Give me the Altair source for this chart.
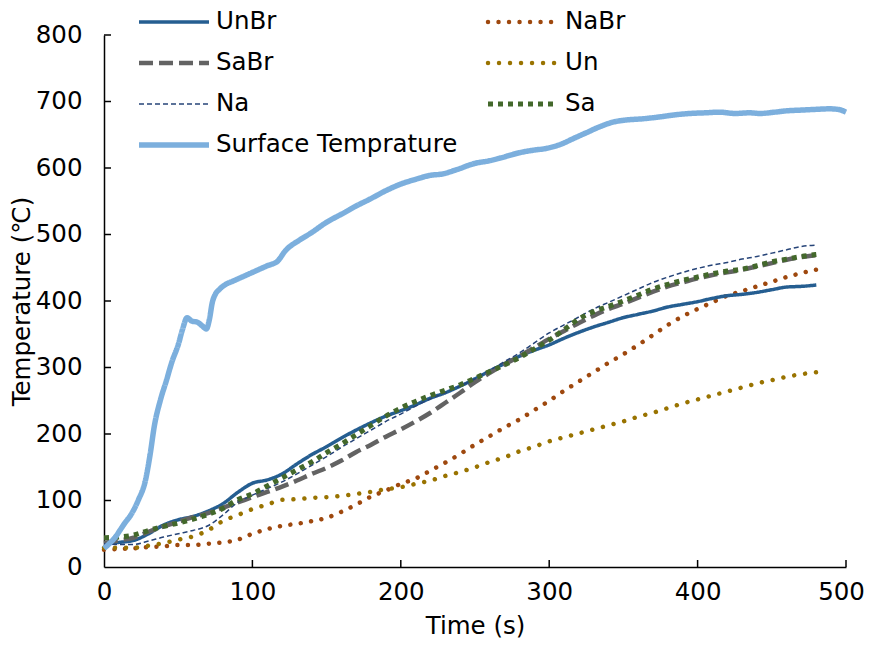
import json
import altair as alt
import pandas as pd

# ---------------- data ----------------
time_s = list(range(0, 481, 10))

unbr = [35, 37, 40, 50, 63, 71, 76, 84, 95, 112, 126, 131, 140, 155, 169, 181, 194, 206, 217, 227,
        235, 244, 254, 262, 272, 283, 295, 306, 317, 326, 334, 344, 353, 361, 368, 375, 380, 385, 391, 395,
        399, 404, 408, 410, 413, 417, 421, 422, 424]
nabr = [26, 27, 28, 30, 31, 33, 33, 35, 37, 41, 50, 57, 62, 65, 69, 74, 83, 94, 106, 115,
        125, 133, 145, 157, 170, 184, 197, 210, 222, 236, 250, 265, 279, 293, 307, 320, 334, 349, 364, 377,
        388, 398, 408, 415, 422, 429, 436, 442, 447]
sabr = [36, 40, 44, 53, 61, 68, 75, 81, 89, 97, 105, 113, 121, 130, 140, 149, 160, 173, 184, 196,
        207, 219, 232, 247, 262, 278, 292, 305, 317, 330, 343, 355, 367, 378, 388, 396, 405, 414, 422, 428,
        434, 439, 443, 447, 452, 457, 462, 466, 469]
un = [29, 29, 29, 32, 36, 41, 46, 55, 69, 78, 87, 94, 101, 102, 104, 105, 107, 110, 113, 117,
      120, 125, 130, 137, 143, 150, 158, 165, 174, 181, 189, 195, 201, 207, 213, 219, 226, 232, 239, 246,
      252, 258, 264, 270, 276, 281, 286, 290, 293]
na = [35, 34, 34, 39, 45, 50, 55, 62, 78, 97, 108, 118, 128, 140, 153, 166, 180, 193, 206, 219,
      230, 242, 253, 262, 272, 283, 296, 309, 322, 337, 352, 364, 376, 388, 398, 408, 418, 428, 436, 443,
      449, 454, 458, 463, 467, 472, 477, 482, 484]
sa = [44, 45, 48, 55, 61, 66, 72, 79, 88, 101, 110, 122, 134, 146, 158, 172, 185, 199, 213, 227,
      239, 249, 258, 266, 274, 284, 294, 304, 315, 328, 341, 357, 373, 384, 392, 400, 409, 418, 425, 431,
      436, 441, 445, 448, 453, 459, 463, 467, 470]

surface_time = [0, 4, 8, 11, 14, 18, 23, 28, 31, 34, 38, 42, 46, 50, 53, 56, 59, 63, 66, 69,
                71, 73, 75, 78, 82, 87, 93, 102, 110, 117, 122, 132, 140, 149, 162, 170, 179, 190, 199, 210,
                220, 228, 237, 250, 260, 267, 280, 290, 297, 307, 317, 325, 334, 343, 351, 363, 375, 385, 395, 405,
                415, 425, 435, 442, 452, 460, 469, 478, 489, 495, 500]
surface_temp = [28, 36, 46, 56, 66, 78, 100, 131, 168, 213, 251, 280, 310, 334, 358, 375, 370, 368, 363, 358,
                372, 398, 410, 418, 425, 430, 436, 445, 453, 460, 475, 492, 503, 517, 533, 543, 553, 566, 575, 583,
                589, 591, 597, 607, 611, 615, 623, 627, 629, 635, 645, 653, 662, 669, 672, 674, 677, 680, 682, 683,
                684, 682, 683, 682, 684, 686, 687, 688, 689, 688, 684]

series_names = ["UnBr", "NaBr", "SaBr", "Un", "Na", "Sa", "Surface Temprature"]
x_ticks = [0, 100, 200, 300, 400, 500]
y_ticks = [0, 100, 200, 300, 400, 500, 600, 700, 800]

# ---------------- styles ----------------
colors = {"UnBr": "#255E91", "NaBr": "#9E480E", "SaBr": "#636363", "Un": "#997300",
          "Na": "#264478", "Sa": "#43682B", "Surface Temprature": "#7CAFDD"}
dashes = {"UnBr": [1, 0], "NaBr": [0.01, 10.5], "SaBr": [14, 6], "Un": [0.01, 11],
          "Na": [5, 3], "Sa": [5, 5], "Surface Temprature": [1, 0]}
widths = {"UnBr": 3.5, "NaBr": 4.5, "SaBr": 4.5, "Un": 4.5, "Na": 1.5, "Sa": 5,
          "Surface Temprature": 5.5}
round_cap = ["NaBr", "Un"]

FONT = "DejaVu Sans"
FS = 24.5
W, H = 742, 532

# legend layout (pixels relative to the plot's top-left corner)
LEG_X0, LEG_Y0 = 35, -13
LEG_COL_STEP, LEG_ROW_STEP = 349, 41
LEG_SYMBOL_LEN, LEG_LABEL_GAP = 70, 7

rows = []
for name, vals in zip(series_names[:6], [unbr, nabr, sabr, un, na, sa]):
    for t, v in zip(time_s, vals):
        rows.append({"series": name, "time": t, "temp": v})
for t, v in zip(surface_time, surface_temp):
    rows.append({"series": series_names[6], "time": t, "temp": v})
df = pd.DataFrame(rows)

legend_df = pd.DataFrame({"series": series_names, "idx": list(range(len(series_names)))})

width_expr = ""
for n in series_names[:-1]:
    width_expr += f"datum.series === '{n}' ? {widths[n]} : "
width_expr += str(widths[series_names[-1]])

x_scale = alt.Scale(domain=[0, 500], nice=False, zero=False)
y_scale = alt.Scale(domain=[0, 800], nice=False)

x_axis = alt.Axis(values=x_ticks, tickSize=0, grid=False, domainColor="black", domainWidth=1.5,
                  labelFont=FONT, labelFontSize=FS, labelColor="black", labelPadding=13,
                  labelFlush=False, labelOverlap=False,
                  labelOffset=alt.ConditionalAxisNumber(
                      condition={"test": f"datum.value === {x_ticks[-1]}", "value": -5}, value=0),
                  title="Time (s)", titleFont=FONT, titleFontSize=FS, titleFontWeight="normal",
                  titleColor="black", titlePadding=11)
y_axis = alt.Axis(values=y_ticks, tickSize=0, grid=False, domainColor="black", domainWidth=1.5,
                  labelFont=FONT, labelFontSize=FS, labelColor="black", labelPadding=22,
                  labelFlush=False, labelOverlap=False,
                  title="Temperature (℃)", titleFont=FONT, titleFontSize=FS, titleFontWeight="normal",
                  titleColor="black", titlePadding=1)

color_enc = alt.Color("series:N", scale=alt.Scale(domain=series_names,
                                                  range=[colors[n] for n in series_names]), legend=None)
dash_enc = alt.StrokeDash("series:N", scale=alt.Scale(domain=series_names,
                                                      range=[dashes[n] for n in series_names]),
                          legend=None)
sw_enc = alt.StrokeWidth("w:Q", scale=None, legend=None)

enc = dict(
    x=alt.X("time:Q", scale=x_scale, axis=x_axis),
    y=alt.Y("temp:Q", scale=y_scale, axis=y_axis),
    color=color_enc, strokeDash=dash_enc, strokeWidth=sw_enc,
)

rc_json = json.dumps(round_cap)
is_round = f"indexof({rc_json}, datum.series) >= 0"
is_butt = f"indexof({rc_json}, datum.series) < 0"

line_round = (alt.Chart(df)
              .transform_filter(is_round)
              .transform_calculate(w=width_expr)
              .mark_line(strokeCap="round", interpolate="monotone")
              .encode(**enc))
line_butt = (alt.Chart(df)
             .transform_filter(is_butt)
             .transform_calculate(w=width_expr)
             .mark_line(strokeCap="butt", interpolate="monotone")
             .encode(**enc))

yt = (alt.Chart(pd.DataFrame({"temp": y_ticks[1:]}))
      .mark_rule(color="black", strokeWidth=1.5)
      .encode(y=alt.Y("temp:Q", scale=y_scale, axis=y_axis), x=alt.value(0), x2=alt.value(7)))
xt = (alt.Chart(pd.DataFrame({"time": x_ticks[1:]}))
      .mark_rule(color="black", strokeWidth=1.5)
      .encode(x=alt.X("time:Q", scale=x_scale, axis=x_axis), y=alt.value(H), y2=alt.value(H - 7)))

# ---------------- legend (drawn as marks) ----------------
leg_base = alt.Chart(legend_df).transform_calculate(
    w=width_expr,
    lx=f"{LEG_X0} + (datum.idx % 2) * {LEG_COL_STEP}",
    ly=f"{LEG_Y0} + floor(datum.idx / 2) * {LEG_ROW_STEP}",
).transform_calculate(
    lx2=f"datum.lx + {LEG_SYMBOL_LEN}",
    tx=f"datum.lx + {LEG_SYMBOL_LEN} + {LEG_LABEL_GAP}",
)
leg_enc = dict(
    x=alt.X("lx:Q", scale=None, axis=None),
    x2=alt.X2("lx2:Q"),
    y=alt.Y("ly:Q", scale=None, axis=None),
    color=color_enc, strokeDash=dash_enc, strokeWidth=sw_enc,
)
leg_round = leg_base.transform_filter(is_round).mark_rule(strokeCap="round").encode(**leg_enc)
leg_butt = leg_base.transform_filter(is_butt).mark_rule(strokeCap="butt").encode(**leg_enc)
leg_text = leg_base.mark_text(align="left", baseline="middle", font=FONT, fontSize=FS,
                              color="black").encode(
    x=alt.X("tx:Q", scale=None, axis=None),
    y=alt.Y("ly:Q", scale=None, axis=None),
    text="series:N",
)

chart = (alt.layer(line_round, line_butt, yt, xt, leg_round, leg_butt, leg_text)
         .properties(width=W, height=H,
                     padding={"left": 96, "top": 27, "right": 18, "bottom": 75},
                     autosize=alt.AutoSizeParams(type="none"))
         .configure(font=FONT)
         .configure_view(stroke=None))

chart.save("out.html", embed_options={"renderer": "svg", "actions": False})
